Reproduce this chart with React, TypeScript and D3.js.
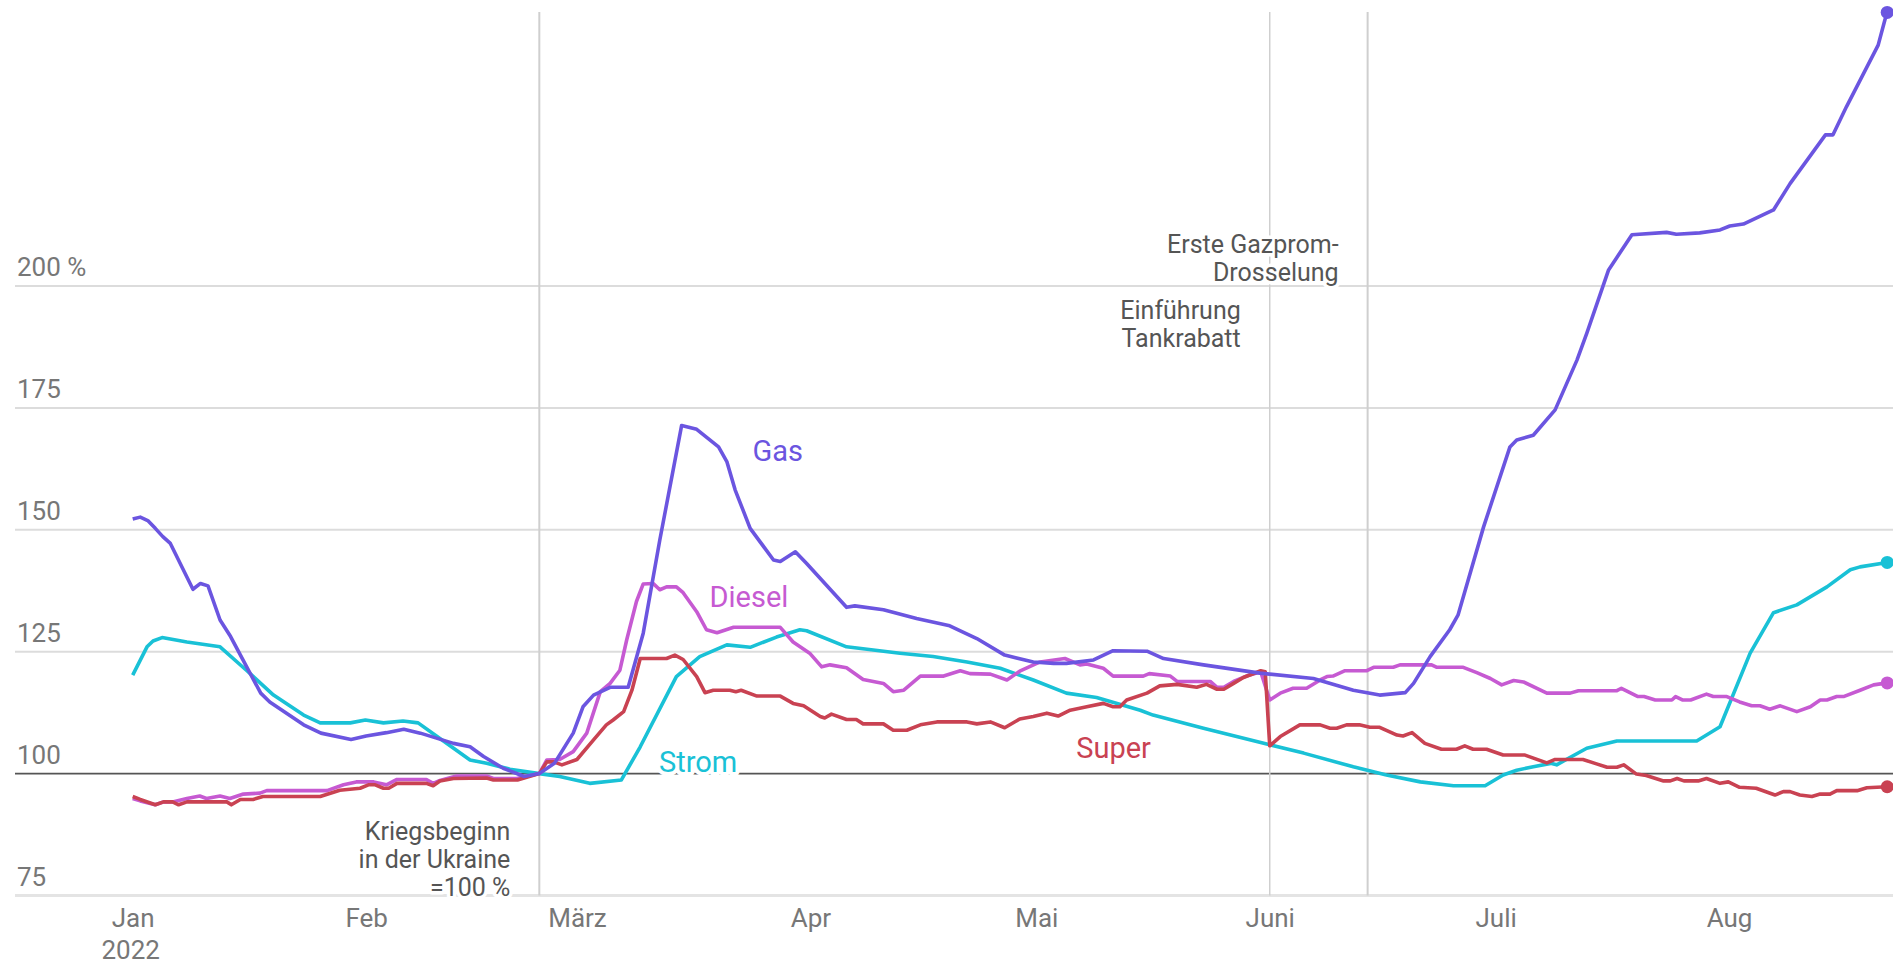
import React, { useRef, useEffect } from 'react';
import * as d3 from 'd3';

// Preisindex, 24. Februar 2022 (Kriegsbeginn) = 100
// Werte: [Tage seit 1. Januar 2022, Index]
const gas: [number, number][] = [
  [0, 152.2], [1, 152.6], [2, 151.9], [3, 150.3], [4, 148.6], [5, 147.2], [8, 137.8], [9, 139], [10, 138.5],
  [11.6, 131.5], [13, 128.1], [17, 116.5], [18.2, 114.7], [22.7, 110], [25, 108.3], [29, 107], [31, 107.7],
  [33.7, 108.4], [36, 109.1], [38.2, 108.3], [42.6, 106.2], [44.8, 105.5], [46.6, 103.5], [49.2, 101.1],
  [52, 99.4], [54, 100], [56, 102.1], [58.5, 108.3], [59.8, 113.7], [61.2, 116.1], [63.4, 117.7], [65.8, 117.7],
  [67.8, 128.8], [70, 147.9], [72.9, 171.4], [74.9, 170.6], [77.8, 167], [78.9, 164], [80, 158.2], [82, 150.3],
  [85.1, 143.8], [86, 143.5], [88, 145.5], [89.5, 143.1], [94.8, 134.1], [95.9, 134.4], [99.7, 133.6],
  [104.1, 131.8], [108.5, 130.3], [112.1, 127.7], [115.8, 124.3], [119.6, 122.9], [122.3, 122.6], [124, 122.6],
  [127.6, 123.3], [130.2, 125.2], [134.7, 125.1], [136.9, 123.6], [142.2, 122.3], [149.7, 120.6], [156.8, 119.5],
  [162.1, 117.1], [165.6, 116.1], [169, 116.6], [170.1, 118.5], [172.3, 124], [174.9, 129.5], [176, 132.5],
  [179.4, 150.6], [182.9, 167], [183.8, 168.4], [186, 169.4], [188.9, 174.6], [191.8, 184.8], [193.1, 190.3],
  [196, 203.3], [199.1, 210.5], [203.7, 211], [205, 210.6], [208.1, 210.9], [210.8, 211.5], [212.1, 212.3],
  [213.9, 212.7], [217.9, 215.6], [220.1, 221], [224.8, 231], [225.8, 231], [227.6, 236.8], [231.8, 249.4],
  [232.7, 254.6], [233, 256.1],
];

const strom: [number, number][] = [
  [0, 120.2], [1.9, 126], [2.7, 127.2], [3.9, 127.9], [7.2, 127], [11.6, 126], [15.1, 121.2], [18.7, 116.1],
  [22.7, 112], [24.9, 110.4], [28.9, 110.4], [30.9, 111], [33.3, 110.4], [35.9, 110.8], [37.9, 110.4],
  [40.8, 107.2], [44.8, 102.8], [47, 102.1], [50.1, 100.9], [54, 100], [56.7, 99.4], [60.7, 98], [64.9, 98.7],
  [67.4, 105.5], [72.2, 119.9], [75.3, 124], [78.9, 126.4], [82, 125.9], [85.5, 128], [88.6, 129.5], [89.5, 129.3],
  [94.8, 126], [101.9, 124.7], [106.3, 124], [110.8, 122.9], [115.2, 121.6], [119.6, 119.2], [124, 116.5],
  [128, 115.6], [133.8, 113], [135.5, 112], [142.2, 109.3], [151, 105.9], [155.5, 104.2], [162.1, 101.4],
  [166.5, 99.7], [171, 98.3], [175.4, 97.5], [179.6, 97.5], [182, 99.7], [183.8, 100.7], [186, 101.4],
  [188.3, 102.1], [189.1, 101.8], [193.1, 105.2], [197.1, 106.7], [207.7, 106.7], [210.8, 109.6], [214.8, 124.7],
  [217.9, 133], [221, 134.6], [225, 138.3], [228.1, 141.8], [229.4, 142.4], [233, 143.3],
];

const diesel: [number, number][] = [
  [0, 94.9], [1, 94.4], [3, 93.6], [4.1, 94.2], [5.3, 94.2], [7.2, 94.9], [8.9, 95.4], [9.8, 94.9], [11.6, 95.4],
  [12.9, 94.9], [14.7, 95.8], [16.9, 96], [17.8, 96.5], [25.8, 96.5], [28, 97.7], [29.7, 98.3], [32, 98.3],
  [33.7, 97.7], [35.1, 98.8], [39, 98.8], [39.9, 98], [40.8, 98.6], [43, 99.5], [47, 99.5], [47.9, 99], [51, 99],
  [54, 100], [55, 102.8], [56.7, 102.9], [58.5, 104.5], [60.3, 108.3], [62.1, 116.8], [63.4, 118.5], [64.7, 121.2],
  [65.6, 127.4], [66.9, 135.3], [67.8, 138.9], [69.1, 139], [70, 137.7], [70.9, 138.3], [72.2, 138.3],
  [73.1, 137.1], [74.9, 133.2], [76.2, 129.5], [77.6, 128.9], [79.8, 130], [86, 130], [87.7, 127], [89.9, 124.7],
  [91.5, 121.9], [92.6, 122.3], [94.8, 121.7], [97, 119.3], [99.7, 118.5], [101, 116.8], [102.4, 117.1],
  [104.6, 120], [107.7, 120], [109.9, 121.1], [111.2, 120.5], [113.9, 120.4], [116.1, 119.2], [117.8, 121],
  [120.5, 122.9], [123.8, 123.6], [125.8, 122.3], [126.7, 122.5], [128.9, 121.6], [130.2, 120], [134.2, 120],
  [135, 120.5], [137.8, 120], [138.7, 118.9], [143.1, 118.9], [144, 117.7], [144.9, 117.7], [146.2, 118.9],
  [147.9, 120], [149.8, 120.9], [151, 115.1], [152.4, 116.5], [154.1, 117.5], [155.9, 117.5], [157.7, 119.2],
  [158.6, 119.9], [159.4, 120], [161, 121.1], [163.9, 121.1], [164.8, 121.8], [167.4, 121.8], [168.3, 122.3],
  [172.5, 122.3], [173.2, 121.8], [176.7, 121.8], [178.5, 120.7], [180.3, 119.5], [181.8, 118.2], [183.4, 119.1],
  [184.7, 118.8], [187.8, 116.5], [190.9, 116.5], [192, 117], [197.1, 117], [197.7, 117.5], [199.9, 115.8],
  [200.7, 115.8], [202.2, 115.1], [204.4, 115.1], [204.9, 115.8], [205.8, 115.1], [206.9, 115.1], [209, 116.3],
  [209.9, 115.8], [211.7, 115.8], [213.4, 114.7], [215, 113.9], [216.1, 113.9], [217.4, 113.2], [218.8, 113.9],
  [221, 112.7], [222.8, 113.7], [224.1, 115.1], [225, 115.1], [226.3, 115.8], [227.2, 115.8], [229.4, 117.1],
  [231.2, 118.2], [233, 118.6],
];

const superBenzin: [number, number][] = [
  [0, 95.3], [1, 94.7], [3, 93.6], [4.1, 94.2], [5.3, 94.2], [6.1, 93.6], [7.2, 94.2], [12.5, 94.2], [13.1, 93.6],
  [14.3, 94.7], [16, 94.7], [17.3, 95.3], [24.9, 95.3], [27.5, 96.6], [30.2, 97], [31.3, 97.7], [32.2, 97.7],
  [33.3, 97], [34, 97], [35.1, 98], [39, 98], [39.9, 97.5], [40.8, 98.5], [42.6, 99], [47, 99.1], [47.9, 98.7],
  [51.1, 98.7], [54, 100], [55, 102.4], [55.9, 102.4], [57, 101.8], [59, 102.9], [61.2, 106.9], [62.9, 110],
  [63.8, 111], [65.2, 112.7], [66.3, 117.1], [67.4, 123.6], [70.9, 123.6], [72, 124.3], [73.1, 123.4],
  [74.9, 119.9], [76, 116.6], [77.1, 117.1], [79.3, 117.1], [80.1, 116.8], [80.8, 117.1], [82.9, 115.9],
  [86, 115.9], [87.7, 114.4], [89.1, 113.9], [91.3, 111.7], [91.9, 111.4], [92.8, 112.2], [94.8, 111.1],
  [96.1, 111.1], [97, 110.2], [99.7, 110.2], [101, 108.9], [102.8, 108.9], [104.6, 110], [106.8, 110.6],
  [110.8, 110.6], [112.1, 110.2], [113.9, 110.6], [115.8, 109.4], [117.8, 111.2], [119.6, 111.7], [121.4, 112.4],
  [122.9, 111.8], [124.5, 113], [126.7, 113.7], [128.9, 114.4], [130.2, 113.7], [131.1, 113.7], [132, 115.1],
  [134.7, 116.5], [136.4, 118], [138.7, 118.3], [141.3, 117.7], [142.6, 118.3], [144, 117.3], [144.9, 117.3],
  [146.2, 118.5], [147.5, 119.7], [149.8, 121.1], [150.4, 120.9], [151, 105.7], [152.4, 107.6], [155, 110],
  [157.7, 110], [159, 109.3], [159.9, 109.3], [161.2, 110], [162.9, 110], [164.3, 109.5], [165.6, 109.5],
  [167.9, 107.9], [168.7, 107.7], [169.9, 108.4], [171.6, 106.2], [173.8, 105], [175.8, 105], [176.9, 105.7],
  [178, 105], [179.8, 105], [182, 103.8], [184.9, 103.8], [187.8, 102.2], [188.9, 102.9], [192.6, 102.9],
  [194.4, 102], [195.8, 101.3], [197.1, 101.3], [198, 101.8], [199.7, 99.9], [201, 99.6], [203.3, 98.5],
  [204.2, 98.5], [205.1, 99], [206, 98.5], [207.9, 98.5], [209, 99], [210.8, 98], [211.9, 98.3], [213.4, 97.2],
  [215.6, 97], [218.1, 95.6], [219.2, 96.3], [220.1, 96.3], [221.4, 95.6], [223, 95.3], [224.1, 95.8],
  [225.4, 95.8], [226.3, 96.5], [229, 96.5], [230.3, 97.1], [233, 97.3],
];

const monthNames = ['Jan', 'Feb', 'März', 'Apr', 'Mai', 'Juni', 'Juli', 'Aug'];
const yTicks = [75, 100, 125, 150, 175, 200];

const events = [
  { day: 54, lines: ['Kriegsbeginn', 'in der Ukraine', '=100 %'] },
  { day: 151, lines: ['Einführung', 'Tankrabatt'] },
  { day: 164, lines: ['Erste Gazprom-', 'Drosselung'] },
];

const W = 1893;
const H = 965;
const t0 = Date.UTC(2022, 0, 1);
const toDate = (d: number) => new Date(t0 + d * 864e5);

const FONT = 'Roboto, sans-serif';

export default function App() {
  const svgRef = useRef<SVGSVGElement>(null);

  useEffect(() => {
    const svg = d3.select(svgRef.current);
    svg.selectAll('*').remove();

    const x = d3.scaleUtc().domain([toDate(0), toDate(233)]).range([132.7, 1887.2]);
    const y = d3.scaleLinear().domain([75, 200]).range([895.5, 286]);

    const series = [
      { name: 'Strom', color: '#19c1d6', data: strom, at: [69.9, 100.4] },
      { name: 'Diesel', color: '#c65ad2', data: diesel, at: [76.6, 134.2] },
      { name: 'Super', color: '#c94252', data: superBenzin, at: [125.3, 103.1] },
      { name: 'Gas', color: '#6b55e0', data: gas, at: [82.3, 164.2] },
    ];

    // horizontal grid
    const grid = svg.append('g');
    grid.selectAll('line')
      .data(yTicks)
      .join('line')
      .attr('x1', 15).attr('x2', W)
      .attr('y1', d => y(d)).attr('y2', d => y(d))
      .attr('stroke', d => d === 100 ? '#555' : d === 75 ? '#e4e4e4' : '#dcdcdc')
      .attr('stroke-width', d => d === 100 ? 1.6 : d === 75 ? 3 : 2);

    grid.selectAll('text')
      .data(yTicks)
      .join('text')
      .attr('x', 17)
      .attr('y', d => y(d) - 10)
      .attr('fill', '#777')
      .attr('font-family', FONT)
      .attr('font-size', 26)
      .text(d => d === 200 ? `${d} %` : `${d}`);

    // event lines
    svg.append('g').selectAll('line')
      .data(events)
      .join('line')
      .attr('x1', d => x(toDate(d.day))).attr('x2', d => x(toDate(d.day)))
      .attr('y1', 12).attr('y2', y(75))
      .attr('stroke', '#cfcfcf')
      .attr('stroke-width', d => d.day === 151 ? 1.5 : 2);

    // month axis
    const months = d3.range(8).map(m => new Date(Date.UTC(2022, m, 1)));
    const xAxis = d3.axisBottom(x)
      .tickValues(months)
      .tickSize(0)
      .tickPadding(0)
      .tickFormat((d, i) => monthNames[i]);
    const ax = svg.append('g')
      .attr('transform', `translate(0, ${y(75)})`)
      .call(xAxis);
    ax.select('.domain').remove();
    ax.selectAll('text')
      .attr('y', 31)
      .attr('dy', 0)
      .attr('fill', '#777')
      .attr('font-family', FONT)
      .attr('font-size', 26);
    ax.append('text')
      .attr('x', x(months[0]) - 2)
      .attr('y', 63)
      .attr('text-anchor', 'middle')
      .attr('fill', '#777')
      .attr('font-family', FONT)
      .attr('font-size', 26)
      .text('2022');

    // event annotations
    const baselines: Record<number, number> = { 54: y(75) - 56, 151: y(200) + 33, 164: y(200) - 33 };
    events.forEach(ev => {
      const t = svg.append('text')
        .attr('x', x(toDate(ev.day)) - 29)
        .attr('y', baselines[ev.day])
        .attr('text-anchor', 'end')
        .attr('fill', '#555')
        .attr('font-family', FONT)
        .attr('font-size', 25)
        .attr('stroke', '#fff')
        .attr('stroke-width', 7)
        .attr('stroke-linejoin', 'round')
        .attr('paint-order', 'stroke');
      ev.lines.forEach((l, i) => {
        t.append('tspan')
          .attr('x', x(toDate(ev.day)) - 29)
          .attr('dy', i === 0 ? 0 : 28)
          .text(l);
      });
    });

    // lines
    const line = d3.line<[number, number]>()
      .x(d => x(toDate(d[0])))
      .y(d => y(d[1]));

    series.forEach(s => {
      svg.append('path')
        .datum(s.data)
        .attr('d', line)
        .attr('fill', 'none')
        .attr('stroke', s.color)
        .attr('stroke-width', 3.6)
        .attr('stroke-linejoin', 'round');
      const last = s.data[s.data.length - 1];
      svg.append('circle')
        .attr('cx', x(toDate(last[0])))
        .attr('cy', y(last[1]))
        .attr('r', 6.5)
        .attr('fill', s.color);
    });

    // series labels
    series.forEach(s => {
      svg.append('text')
        .attr('x', x(toDate(s.at[0])))
        .attr('y', y(s.at[1]))
        .attr('fill', s.color)
        .attr('font-family', FONT)
        .attr('font-size', 29)
        .attr('stroke', '#fff')
        .attr('stroke-width', 8)
        .attr('stroke-linejoin', 'round')
        .attr('paint-order', 'stroke')
        .text(s.name);
    });
  }, []);

  return (
    <svg
      ref={svgRef}
      width={W}
      height={H}
      style={{ position: 'absolute', left: 0, top: 0, background: '#fff' }}
    />
  );
}
